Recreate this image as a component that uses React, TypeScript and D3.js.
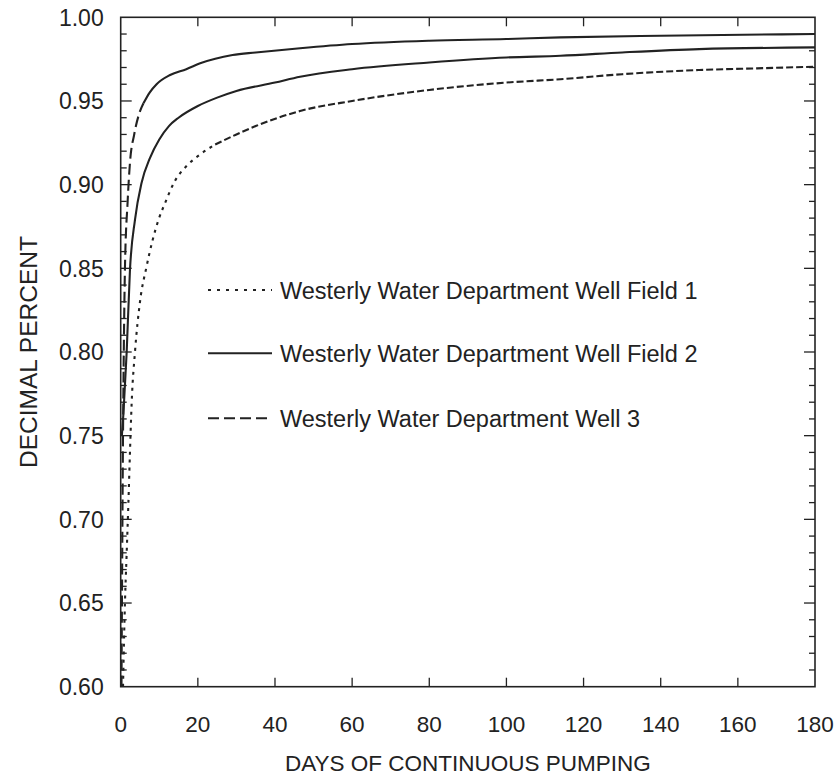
import React, { useRef, useEffect } from 'react';
import * as d3 from 'd3';

// days of continuous pumping / decimal percent
const field1Days = [0.6, 1.1, 1.55, 2.0, 2.4, 2.85, 3.7, 5, 6.7, 9.8, 11.5, 14, 17, 20, 24.5, 30, 35, 46.5, 60, 80, 100, 114, 130, 150, 165, 180];
const field1Values = [0.6, 0.65, 0.68, 0.71, 0.74, 0.77, 0.8, 0.83, 0.851, 0.879, 0.889, 0.902, 0.911, 0.917, 0.924, 0.93, 0.935, 0.944, 0.95, 0.9566, 0.961, 0.963, 0.966, 0.9685, 0.9695, 0.9705];

const field2Days = [0.3, 0.7, 1.55, 2.4, 3.7, 5.4, 7.6, 10, 12.5, 15, 20, 25, 30, 40, 46.5, 60, 80, 100, 114, 130, 150, 180];
const field2Values = [0.75, 0.763, 0.8, 0.849, 0.879, 0.901, 0.916, 0.927, 0.935, 0.94, 0.947, 0.952, 0.956, 0.961, 0.9645, 0.969, 0.973, 0.976, 0.977, 0.979, 0.981, 0.982];

const well3Days = [0.2, 0.4, 0.6, 0.8, 1.1, 1.8, 2.4, 3.5, 4.6, 5.9, 7.5, 9.3, 12.8, 17, 20.6, 29, 35, 46.5, 60, 80, 100, 114, 140, 180];
const well3Values = [0.6, 0.68, 0.75, 0.8, 0.85, 0.89, 0.913, 0.93, 0.941, 0.9486, 0.955, 0.96, 0.9655, 0.969, 0.9725, 0.9775, 0.979, 0.9815, 0.984, 0.986, 0.987, 0.988, 0.989, 0.99];

const seriesNames = [
  'Westerly Water Department Well Field 1',
  'Westerly Water Department Well Field 2',
  'Westerly Water Department Well 3',
];

const xTicks = [0, 20, 40, 60, 80, 100, 120, 140, 160, 180];
const yTicks = [0.6, 0.65, 0.7, 0.75, 0.8, 0.85, 0.9, 0.95, 1.0];

const W = 838;
const H = 775;
const margin = { top: 17.3, right: 23, bottom: 88.3, left: 120.7 };
const ink = '#222';
const FONT = '"Liberation Sans", Arial, Helvetica, sans-serif';

export default function App() {
  const svgRef = useRef<SVGSVGElement>(null);

  useEffect(() => {
    const svg = d3.select(svgRef.current);
    svg.selectAll('*').remove();

    const innerW = W - margin.left - margin.right;
    const innerH = H - margin.top - margin.bottom;

    const x = d3.scaleLinear().domain([0, 180]).range([0, innerW]);
    const y = d3.scaleLinear().domain([0.6, 1.0]).range([innerH, 0]);

    const g = svg.append('g').attr('transform', `translate(${margin.left},${margin.top})`);

    const clipId = 'plot-clip';
    svg.append('defs').append('clipPath').attr('id', clipId)
      .append('rect').attr('width', innerW).attr('height', innerH);

    // minor ticks every 0.01, major every 0.05 (inward on both sides)
    const minorY = d3.range(61, 100).map(v => v / 100).filter(v => Math.round(v * 100) % 5 !== 0);
    const majorY = yTicks.slice(1, -1);

    const tick = (x1: number, y1: number, x2: number, y2: number) =>
      g.append('line').attr('x1', x1).attr('y1', y1).attr('x2', x2).attr('y2', y2)
        .attr('stroke', ink).attr('stroke-width', 1.3);

    minorY.forEach(v => {
      tick(0, y(v), 6, y(v));
      tick(innerW, y(v), innerW - 6, y(v));
    });
    majorY.forEach(v => {
      tick(0, y(v), 11, y(v));
      tick(innerW, y(v), innerW - 11, y(v));
    });
    xTicks.slice(1, -1).forEach(d => {
      tick(x(d), 0, x(d), 9);
      tick(x(d), innerH, x(d), innerH - 9);
    });

    // tick labels
    g.selectAll('.ylab').data(yTicks).enter().append('text')
      .attr('x', -17).attr('y', d => y(d)).attr('dy', '0.36em')
      .attr('text-anchor', 'end')
      .style('font-family', FONT).style('font-size', '23px').attr('fill', ink)
      .text(d => d3.format('.2f')(d));

    g.selectAll('.xlab').data(xTicks).enter().append('text')
      .attr('x', d => x(d)).attr('y', innerH + 45)
      .attr('text-anchor', 'middle')
      .style('font-family', FONT).style('font-size', '22.5px').attr('fill', ink)
      .text(d => d);

    // axis titles
    g.append('text')
      .attr('x', innerW / 2).attr('y', innerH + 84)
      .attr('text-anchor', 'middle')
      .style('font-family', FONT).style('font-size', '22.5px').attr('fill', ink)
      .text('DAYS OF CONTINUOUS PUMPING');

    svg.append('text')
      .attr('transform', `translate(37,${margin.top + innerH / 2}) rotate(-90)`)
      .attr('text-anchor', 'middle')
      .style('font-family', FONT).style('font-size', '24.5px').attr('fill', ink)
      .text('DECIMAL PERCENT');

    // curves; dash pattern changes once the curve flattens out
    const line = d3.line<[number, number]>()
      .x(d => x(d[0])).y(d => y(d[1]))
      .curve(d3.curveMonotoneX);

    const series = [
      { days: field1Days, values: field1Values, split: 24.5, early: '3,5', late: '7,3' },
      { days: field2Days, values: field2Values, split: 180, early: null, late: null },
      { days: well3Days, values: well3Values, split: 5.9, early: '11,5', late: null },
    ];

    const curves = g.append('g').attr('clip-path', `url(#${clipId})`);
    series.forEach(s => {
      const pts: [number, number][] = s.days.map((d, i) => [d, s.values[i]]);
      const early = pts.filter(p => p[0] <= s.split);
      const late = pts.filter(p => p[0] >= s.split);
      curves.append('path').attr('d', line(early))
        .attr('fill', 'none').attr('stroke', ink).attr('stroke-width', 2.1)
        .attr('stroke-dasharray', s.early);
      if (late.length > 1) {
        curves.append('path').attr('d', line(late))
          .attr('fill', 'none').attr('stroke', ink).attr('stroke-width', 2.1)
          .attr('stroke-dasharray', s.late);
      }
    });

    // frame
    g.append('rect').attr('width', innerW).attr('height', innerH)
      .attr('fill', 'none').attr('stroke', ink).attr('stroke-width', 1.6);

    // legend
    const legendDash = ['3,6', null, '11,5'];
    const legendY = [290, 353.3, 418.3];
    seriesNames.forEach((name, i) => {
      svg.append('line')
        .attr('x1', 208).attr('x2', 272)
        .attr('y1', legendY[i]).attr('y2', legendY[i])
        .attr('stroke', ink).attr('stroke-width', 2)
        .attr('stroke-dasharray', legendDash[i]);
      svg.append('text')
        .attr('x', 280).attr('y', legendY[i] + 8.5)
        .style('font-family', FONT).style('font-size', '23.5px').attr('fill', ink)
        .text(name);
    });
  }, []);

  return (
    <div style={{ position: 'absolute', left: 0, top: 0 }}>
      <svg ref={svgRef} width={W} height={H} style={{ display: 'block', background: '#fff' }} />
    </div>
  );
}
